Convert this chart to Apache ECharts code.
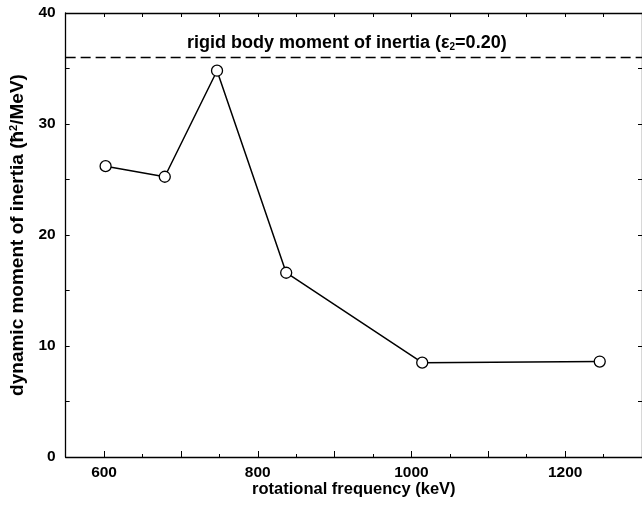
<!DOCTYPE html>
<html>
<head>
<meta charset="utf-8">
<script src="https://cdn.jsdelivr.net/npm/echarts@6/dist/echarts.min.js"></script>
<style>html,body{margin:0;padding:0;background:#fff}#c{width:642px;height:506px}</style>
</head>
<body>
<div id="c"></div>
<script>
const freq = [602, 679, 747, 837, 1014, 1245];
const inertia = [26.2, 25.25, 34.8, 16.6, 8.5, 8.6];
const rigidValue = 36;
const xLabels = [600, 800, 1000, 1200];
const xMajorTicks = [600, 700, 800, 900, 1000, 1100, 1200];
const yLabels = [0, 10, 20, 30, 40];

const font = '"Liberation Sans", Arial, Helvetica, sans-serif';
const chart = echarts.init(document.getElementById('c'), null, {renderer: 'canvas'});
const axLine = {lineStyle: {color: '#000', width: 1.3}};
chart.setOption({
  animation: false,
  grid: {left: 62.5, right: -4.6, top: 13, bottom: 49, containLabel: false},
  xAxis: [
    {
      type: 'value', min: 550, max: 1300, interval: 50, position: 'bottom',
      axisLine: axLine,
      axisTick: {inside: true, length: 3, lineStyle: {color: '#000', width: 1}},
      axisLabel: {show: false},
      splitLine: {show: false},
      name: 'rotational frequency (keV)', nameLocation: 'middle', nameGap: 24,
      nameTextStyle: {fontFamily: font, fontWeight: 'bold', fontSize: 16.5, color: '#000'}
    },
    {
      type: 'value', min: 550, max: 1300, interval: 50, position: 'bottom',
      axisLine: {show: false},
      axisTick: {inside: true, length: 6, customValues: xMajorTicks, lineStyle: {color: '#000', width: 1}},
      axisLabel: {customValues: xLabels, formatter: v => String(v), fontFamily: font, fontWeight: 'bold', fontSize: 15.5, color: '#000', margin: 8},
      splitLine: {show: false}
    },
    {
      type: 'value', min: 550, max: 1300, interval: 50, position: 'top',
      axisLine: axLine,
      axisTick: {inside: true, length: 4, lineStyle: {color: '#000', width: 1}},
      axisLabel: {show: false},
      splitLine: {show: false}
    }
  ],
  yAxis: [
    {
      type: 'value', min: 0, max: 40, interval: 5, position: 'left',
      axisLine: axLine,
      axisTick: {inside: true, length: 4, lineStyle: {color: '#000', width: 1}},
      axisLabel: {customValues: yLabels, formatter: v => String(v), fontFamily: font, fontWeight: 'bold', fontSize: 15.5, color: '#000', margin: 10},
      splitLine: {show: false},
      name: 'dynamic moment of inertia (ħ{sup|2}/MeV)', nameLocation: 'middle', nameGap: 31,
      nameTextStyle: {fontFamily: font, fontWeight: 'bold', fontSize: 19, color: '#000',
        rich: {sup: {fontFamily: font, fontWeight: 'bold', fontSize: 11, color: '#000', verticalAlign: 'top', padding: [0, 0, 9, 0]}}}
    },
    {
      type: 'value', min: 0, max: 40, interval: 5, position: 'right',
      axisLine: axLine,
      axisTick: {inside: true, length: 4, lineStyle: {color: '#000', width: 1}},
      axisLabel: {show: false},
      splitLine: {show: false}
    }
  ],
  series: [
    {
      type: 'line',
      data: freq.map((f, i) => [f, inertia[i]]),
      symbol: 'circle', symbolSize: 11,
      itemStyle: {color: '#fff', borderColor: '#000', borderWidth: 1.3},
      lineStyle: {color: '#000', width: 1.5},
      z: 5,
      markLine: {
        silent: true, symbol: 'none',
        lineStyle: {color: '#000', width: 1.3, type: [10, 5]},
        label: {
          show: true, position: 'insideMiddleTop', distance: 5, offset: [-7, 0],
          formatter: 'rigid body moment of inertia (ε{sub|2}=0.20)',
          fontFamily: font, fontWeight: 'bold', fontSize: 18, color: '#000',
          rich: {sub: {fontFamily: font, fontWeight: 'bold', fontSize: 10, color: '#000', verticalAlign: 'bottom', padding: [9, 0, 0, 0]}}
        },
        data: [{yAxis: rigidValue}]
      }
    }
  ]
});
</script>
</body>
</html>
